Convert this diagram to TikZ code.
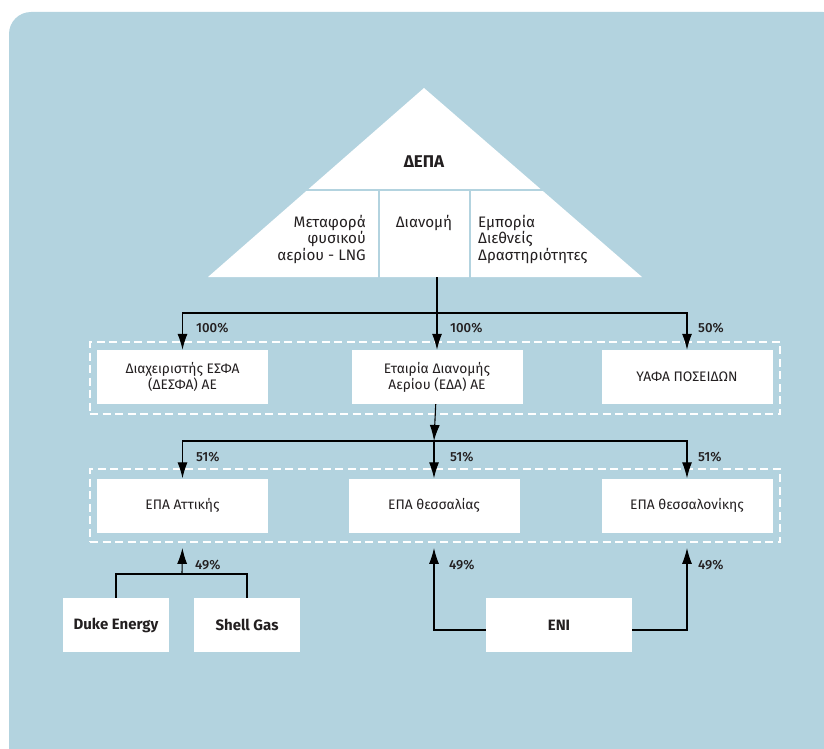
\documentclass[tikz,border=0pt]{standalone}
\usepackage{fontspec}
\setmainfont{Fira Sans}
\newfontfamily\medfont{Fira Sans Medium}
\usetikzlibrary{arrows.meta,fit}

\definecolor{panel}{HTML}{B3D3DF}
\definecolor{ink}{HTML}{231F20}

\tikzset{
  entity/.style={fill=white, text=ink, align=center, minimum width=171pt, minimum height=54pt, inner sep=0pt, font=\fontsize{13.8}{16}\selectfont},
  owner/.style={entity, font=\fontsize{15}{16}\selectfont\bfseries},
  cell/.style={text=ink, inner sep=0pt, font=\fontsize{15.2}{16.5}\selectfont},
  pct/.style={text=ink, anchor=west, inner sep=0pt, font=\fontsize{13.2}{14}\medfont},
  group/.style={draw=white, line width=1.8pt, dash pattern=on 8pt off 4.5pt, inner sep=0pt},
  link/.style={draw=black, line width=1.1pt},
  arr/.style={link, -{Latex[length=16pt,width=10pt]}}
}

\begin{document}
\begin{tikzpicture}[x=1pt, y=-1pt]
			\useasboundingbox (0,0) rectangle (824,749);
			\fill[panel, rounded corners=22pt] (9,12) rectangle (845,770);

			% Triangle (DEPA)
			\fill[white] (208,277) -- (424,88) -- (642,277) -- cycle;
			\draw[panel, line width=2pt] (200,190) -- (650,190);
			\draw[panel, line width=2pt] (379,190) -- (379,279);
			\draw[panel, line width=2pt] (470,190) -- (470,279);
			\node[cell, font=\fontsize{17}{18}\selectfont\bfseries] (depatitle) at (424,162) {ΔΕΠΑ};
			\node[cell, align=right, anchor=north east] (transport) at (366,215) {Μεταφορά\\φυσικού\\αερίου - LNG};
			\node[cell, anchor=north] (distrib) at (424,215) {Διανομή};
			\node[cell, align=left, anchor=north west] (trade) at (478,215) {Εμπορία\\Διεθνείς\\Δραστηριότητες};
			\coordinate (depa) at (437,277);
			\coordinate (split1) at (437,313);

			% First level
			\node[entity] (desfa) at (182.5,377) {Διαχειριστής ΕΣΦΑ\\(ΔΕΣΦΑ) ΑΕ};
			\node[entity] (eda) at (437,377) {Εταιρία Διανομής\\Αερίου (ΕΔΑ) ΑΕ};
			\node[entity] (ypafa) at (687,377) {ΥΑΦΑ ΠΟΣΕΙΔΩΝ};
			\node[group, fit={(90,342) (780,414)}] (grpA) {};

			% Second level
			\node[entity] (attiki) at (182.5,505.5) {ΕΠΑ Αττικής};
			\node[entity] (thessalia) at (434,505.5) {ΕΠΑ θεσσαλίας};
			\node[entity] (thessaloniki) at (687,505.5) {ΕΠΑ θεσσαλονίκης};
			\node[group, fit={(90,469) (780,542)}] (grpB) {};
			\coordinate (split2) at (434,441);

			% Partners
			\node[owner, minimum width=106pt] (duke) at (116,625) {Duke Energy};
			\node[owner, minimum width=106pt] (shell) at (247,625) {Shell Gas};
			\node[owner, minimum width=146pt] (eni) at (559,625) {ENI};
			\coordinate (join) at (182,574);

			% Edges
			\draw[link] (depa) -- (split1);
			\draw[arr] (split1) -| (desfa.north);
			\draw[arr] (split1) -| (ypafa.north);
			\draw[arr] (depa) -- (depa |- eda.north);
			\draw[arr] (eda) -- (split2);
			\draw[arr] (split2) -| (attiki.north);
			\draw[arr] (split2) -| (thessaloniki.north);
			\draw[arr] (split2) -- (thessalia.north);
			\draw[link] (duke.north) |- (join) -| (shell.north);
			\draw[arr, shorten >=5pt] (join) -- (attiki.south |- grpB.south);
			\draw[arr, shorten >=5pt] ([yshift=-5pt]eni.west) -| (thessalia.south |- grpB.south);
			\draw[arr, shorten >=5pt] ([yshift=-5pt]eni.east) -| (thessaloniki.south |- grpB.south);

			% Shares
			\node[pct] (p1) at (196,328) {100\%};
			\node[pct] (p2) at (450,328) {100\%};
			\node[pct] (p3) at (698,328) {50\%};
			\node[pct] (p4) at (196,457) {51\%};
			\node[pct] (p5) at (450,457) {51\%};
			\node[pct] (p6) at (698,457) {51\%};
			\node[pct] (p7) at (195,565) {49\%};
			\node[pct] (p8) at (449,565) {49\%};
			\node[pct] (p9) at (698,565) {49\%};
		\end{tikzpicture}
\end{document}
